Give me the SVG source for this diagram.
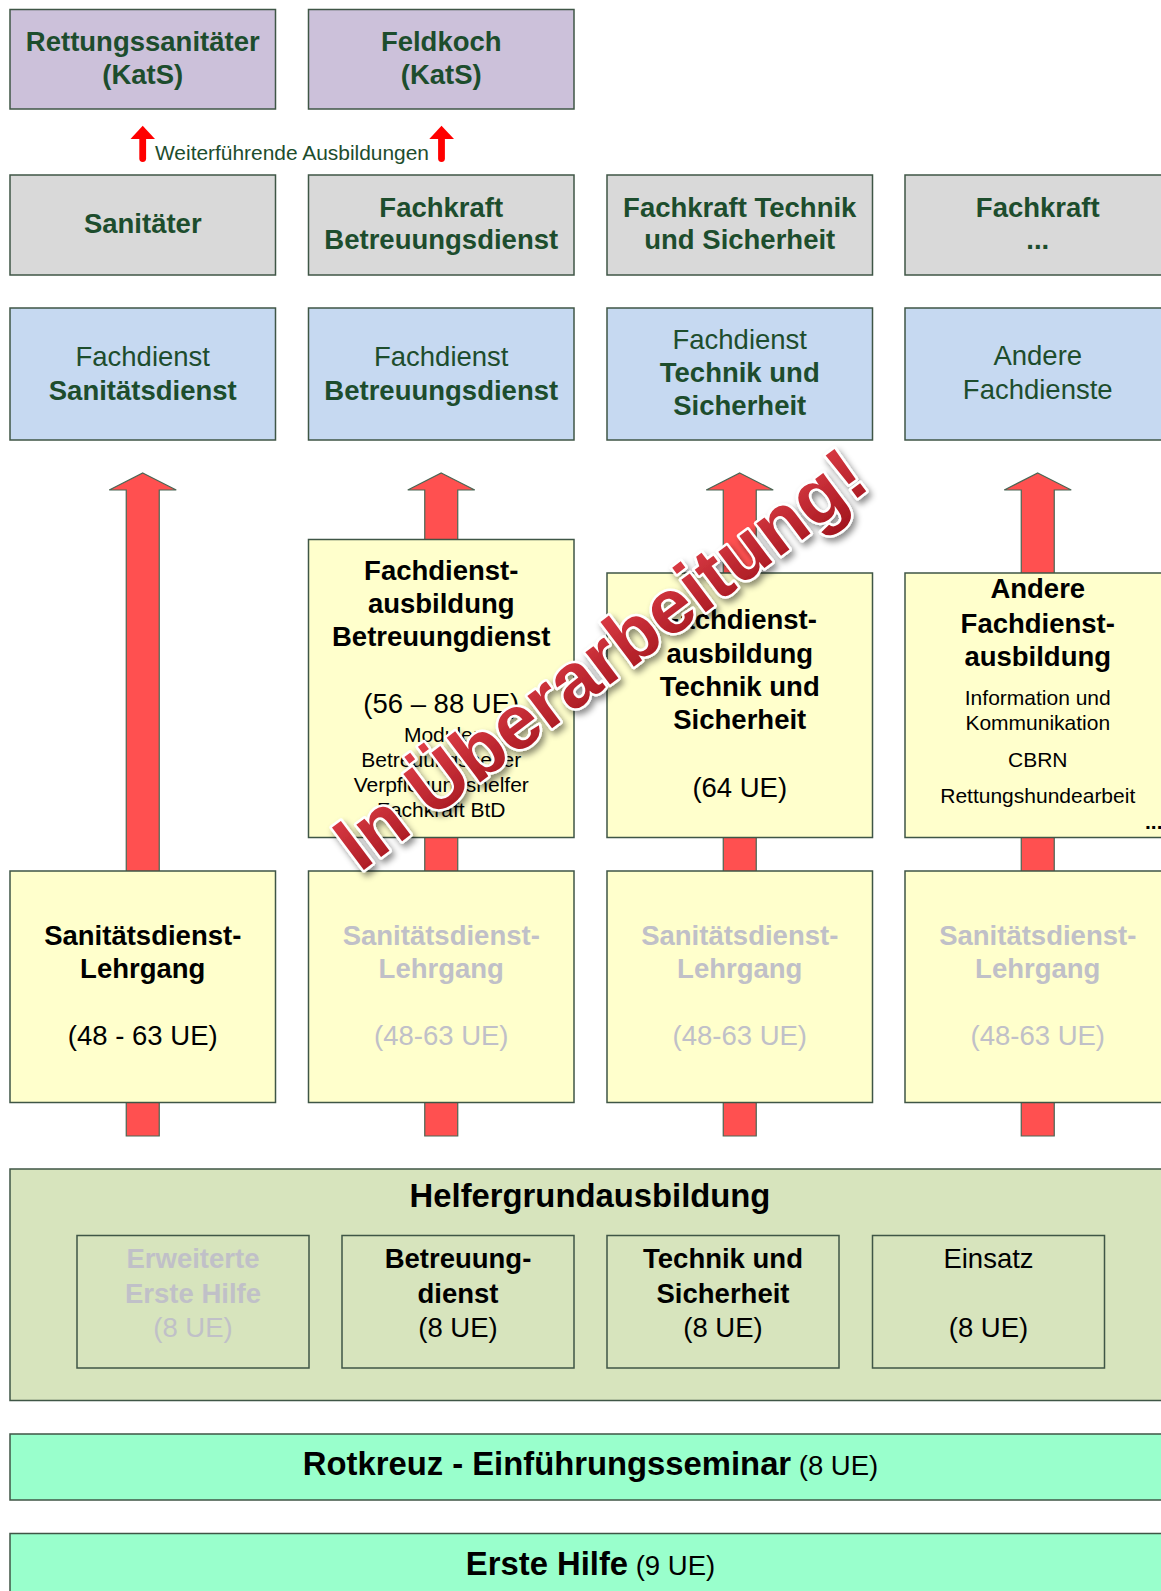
<svg xmlns="http://www.w3.org/2000/svg" width="1161" height="1591" viewBox="0 0 1161 1591">
<defs>
<style>
text{font-family:"Liberation Sans",Arial,sans-serif;text-anchor:middle}
.box{stroke:#3F5646;stroke-width:1.5}
.pu{fill:#CCC1DA}.gr{fill:#D9D9D9}.bl{fill:#C6D9F1}.ye{fill:#FFFFCC}.he{fill:#D7E4BD}.mi{fill:#99FFCC}
.t{font-size:27.5px}.b{font-weight:bold}.s{font-size:21px}
.dg{fill:#1D4D2D}.bk{fill:#000}.gy{fill:#C0C0C8}
.arr{fill:#FF5050;stroke:#4A6654;stroke-width:1.2}
.wm{font-size:77px;font-weight:bold;fill:url(#wmg);stroke:#fff;stroke-width:5;paint-order:stroke;stroke-linejoin:round}
</style>
<linearGradient id="wmg" x1="0" y1="0" x2="0" y2="1">
<stop offset="0" stop-color="#E2404A"/><stop offset="1" stop-color="#A3161E"/>
</linearGradient>
<filter id="sh" x="-10%" y="-10%" width="120%" height="120%">
<feDropShadow dx="3" dy="4" stdDeviation="3" flood-color="#000" flood-opacity="0.45"/>
</filter>
</defs>
<rect width="1161" height="1591" fill="#fff"/>

<g id="connectors">
<path class="arr" d="M142.75,473 L176.25,490 L159.25,490 L159.25,1136 L126.25,1136 L126.25,490 L109.25,490 Z"/>
<path class="arr" d="M441.25,473 L474.75,490 L457.75,490 L457.75,1136 L424.75,1136 L424.75,490 L407.75,490 Z"/>
<path class="arr" d="M739.75,473 L773.25,490 L756.25,490 L756.25,1136 L723.25,1136 L723.25,490 L706.25,490 Z"/>
<path class="arr" d="M1037.75,473 L1071.25,490 L1054.25,490 L1054.25,1136 L1021.25,1136 L1021.25,490 L1004.25,490 Z"/>
<g id="weiter-arrows" fill="#FF0000" stroke="#FF0000">
<line x1="142.7" y1="137" x2="142.7" y2="158.5" stroke-width="6.8" stroke-linecap="round"/>
<path d="M142.7,125.7 L155,139 L130.5,139 Z" stroke="none"/>
<line x1="441.5" y1="137" x2="441.5" y2="158.5" stroke-width="6.8" stroke-linecap="round"/>
<path d="M441.5,125.7 L454,139 L429.3,139 Z" stroke="none"/>
</g>
<text x="292" y="160" class="dg" style="font-size:20px" textLength="274" lengthAdjust="spacingAndGlyphs">Weiterführende Ausbildungen</text>
</g>

<g id="rettungssanitaeter">
<rect class="box pu" x="10" y="9.5" width="265.5" height="99.5"/>
<text class="t b dg" x="142.75" y="50.7">Rettungssanitäter</text>
<text class="t b dg" x="142.75" y="84">(KatS)</text>
</g>
<g id="feldkoch">
<rect class="box pu" x="308.5" y="9.5" width="265.5" height="99.5"/>
<text class="t b dg" x="441.25" y="50.7">Feldkoch</text>
<text class="t b dg" x="441.25" y="84">(KatS)</text>
</g>

<g id="sanitaeter">
<rect class="box gr" x="10" y="175" width="265.5" height="100"/>
<text class="t b dg" x="142.75" y="233.3">Sanitäter</text>
</g>
<g id="fachkraft-btd">
<rect class="box gr" x="308.5" y="175" width="265.5" height="100"/>
<text class="t b dg" x="441.25" y="216.7">Fachkraft</text>
<text class="t b dg" x="441.25" y="249.3">Betreuungsdienst</text>
</g>
<g id="fachkraft-tus">
<rect class="box gr" x="607" y="175" width="265.5" height="100"/>
<text class="t b dg" x="739.75" y="216.7">Fachkraft Technik</text>
<text class="t b dg" x="739.75" y="249.3">und Sicherheit</text>
</g>
<g id="fachkraft-andere">
<rect class="box gr" x="905" y="175" width="265.5" height="100"/>
<text class="t b dg" x="1037.75" y="216.7">Fachkraft</text>
<text class="t b dg" x="1037.75" y="249.3">...</text>
</g>

<g id="fd-san">
<rect class="box bl" x="10" y="308" width="265.5" height="132"/>
<text class="t dg" x="142.75" y="366">Fachdienst</text>
<text class="t b dg" x="142.75" y="399.5">Sanitätsdienst</text>
</g>
<g id="fd-btd">
<rect class="box bl" x="308.5" y="308" width="265.5" height="132"/>
<text class="t dg" x="441.25" y="366">Fachdienst</text>
<text class="t b dg" x="441.25" y="399.5">Betreuungsdienst</text>
</g>
<g id="fd-tus">
<rect class="box bl" x="607" y="308" width="265.5" height="132"/>
<text class="t dg" x="739.75" y="349">Fachdienst</text>
<text class="t b dg" x="739.75" y="382.3">Technik und</text>
<text class="t b dg" x="739.75" y="415">Sicherheit</text>
</g>
<g id="fd-andere">
<rect class="box bl" x="905" y="308" width="265.5" height="132"/>
<text class="t dg" x="1037.75" y="365">Andere</text>
<text class="t dg" x="1037.75" y="399">Fachdienste</text>
</g>

<g id="fda-btd">
<rect class="box ye" x="308.5" y="539.5" width="265.5" height="298"/>
<text class="t b bk" x="441.25" y="580">Fachdienst-</text>
<text class="t b bk" x="441.25" y="613">ausbildung</text>
<text class="t b bk" x="441.25" y="646">Betreuungdienst</text>
<text class="t bk" x="441.25" y="713">(56 – 88 UE)</text>
<text class="s bk" x="441.25" y="741.7">Module:</text>
<text class="s bk" x="441.25" y="766.7">Betreuungshelfer</text>
<text class="s bk" x="441.25" y="791.7">Verpflegungshelfer</text>
<text class="s bk" x="441.25" y="816.7">Fachkraft BtD</text>
</g>
<g id="fda-tus">
<rect class="box ye" x="607" y="573" width="265.5" height="264.5"/>
<text class="t b bk" x="739.75" y="629.3">Fachdienst-</text>
<text class="t b bk" x="739.75" y="662.5">ausbildung</text>
<text class="t b bk" x="739.75" y="696">Technik und</text>
<text class="t b bk" x="739.75" y="729.3">Sicherheit</text>
<text class="t bk" x="739.75" y="796.7">(64 UE)</text>
</g>
<g id="fda-andere">
<rect class="box ye" x="905" y="573" width="265.5" height="264.5"/>
<text class="t b bk" x="1037.75" y="598.3">Andere</text>
<text class="t b bk" x="1037.75" y="632.7">Fachdienst-</text>
<text class="t b bk" x="1037.75" y="666">ausbildung</text>
<text class="s bk" x="1037.75" y="705">Information und</text>
<text class="s bk" x="1037.75" y="730">Kommunikation</text>
<text class="s bk" x="1037.75" y="767.3">CBRN</text>
<text class="s bk" x="1037.75" y="803.3">Rettungshundearbeit</text>
<text class="s b bk" x="1145" y="829" style="text-anchor:start">...</text>
</g>

<g id="sdl-1">
<rect class="box ye" x="10" y="871" width="265.5" height="231.5"/>
<text class="t b bk" x="142.75" y="945">Sanitätsdienst-</text>
<text class="t b bk" x="142.75" y="978.3">Lehrgang</text>
<text class="t bk" x="142.75" y="1045">(48 - 63 UE)</text>
</g>
<g id="sdl-2">
<rect class="box ye" x="308.5" y="871" width="265.5" height="231.5"/>
<text class="t b gy" x="441.25" y="945">Sanitätsdienst-</text>
<text class="t b gy" x="441.25" y="978.3">Lehrgang</text>
<text class="t gy" x="441.25" y="1045">(48-63 UE)</text>
</g>
<g id="sdl-3">
<rect class="box ye" x="607" y="871" width="265.5" height="231.5"/>
<text class="t b gy" x="739.75" y="945">Sanitätsdienst-</text>
<text class="t b gy" x="739.75" y="978.3">Lehrgang</text>
<text class="t gy" x="739.75" y="1045">(48-63 UE)</text>
</g>
<g id="sdl-4">
<rect class="box ye" x="905" y="871" width="265.5" height="231.5"/>
<text class="t b gy" x="1037.75" y="945">Sanitätsdienst-</text>
<text class="t b gy" x="1037.75" y="978.3">Lehrgang</text>
<text class="t gy" x="1037.75" y="1045">(48-63 UE)</text>
</g>

<g id="helfergrundausbildung">
<rect class="box he" x="10" y="1169" width="1160" height="231.5"/>
<text class="b bk" style="font-size:32.8px" x="590" y="1206.7">Helfergrundausbildung</text>
</g>
<g id="hga-eeh">
<rect class="box he" x="77" y="1235.5" width="232" height="132.5"/>
<text class="t b gy" x="193" y="1268.3">Erweiterte</text>
<text class="t b gy" x="193" y="1302.7">Erste Hilfe</text>
<text class="t gy" x="193" y="1336.7">(8 UE)</text>
</g>
<g id="hga-btd">
<rect class="box he" x="342" y="1235.5" width="232" height="132.5"/>
<text class="t b bk" x="458" y="1268.3">Betreuung-</text>
<text class="t b bk" x="458" y="1302.7">dienst</text>
<text class="t bk" x="458" y="1336.7">(8 UE)</text>
</g>
<g id="hga-tus">
<rect class="box he" x="607" y="1235.5" width="232" height="132.5"/>
<text class="t b bk" x="723" y="1268.3">Technik und</text>
<text class="t b bk" x="723" y="1302.7">Sicherheit</text>
<text class="t bk" x="723" y="1336.7">(8 UE)</text>
</g>
<g id="hga-einsatz">
<rect class="box he" x="872.5" y="1235.5" width="232" height="132.5"/>
<text class="t bk" x="988.5" y="1268.3">Einsatz</text>
<text class="t bk" x="988.5" y="1336.7">(8 UE)</text>
</g>

<g id="rotkreuz">
<rect class="box mi" x="10" y="1434" width="1160" height="66"/>
<text class="bk" x="590.5" y="1475"><tspan class="b" style="font-size:32.8px">Rotkreuz - Einführungsseminar</tspan><tspan style="font-size:27.5px"> (8 UE)</tspan></text>
</g>
<g id="erste-hilfe">
<rect class="box mi" x="10" y="1533.5" width="1160" height="70"/>
<text class="bk" x="590.5" y="1575"><tspan class="b" style="font-size:32.8px">Erste Hilfe</tspan><tspan style="font-size:27.5px"> (9 UE)</tspan></text>
</g>

<g id="watermark" filter="url(#sh)">
<text class="wm" transform="translate(616,680) rotate(-37)" x="0" y="0">In Überarbeitung!</text>
</g>
</svg>
